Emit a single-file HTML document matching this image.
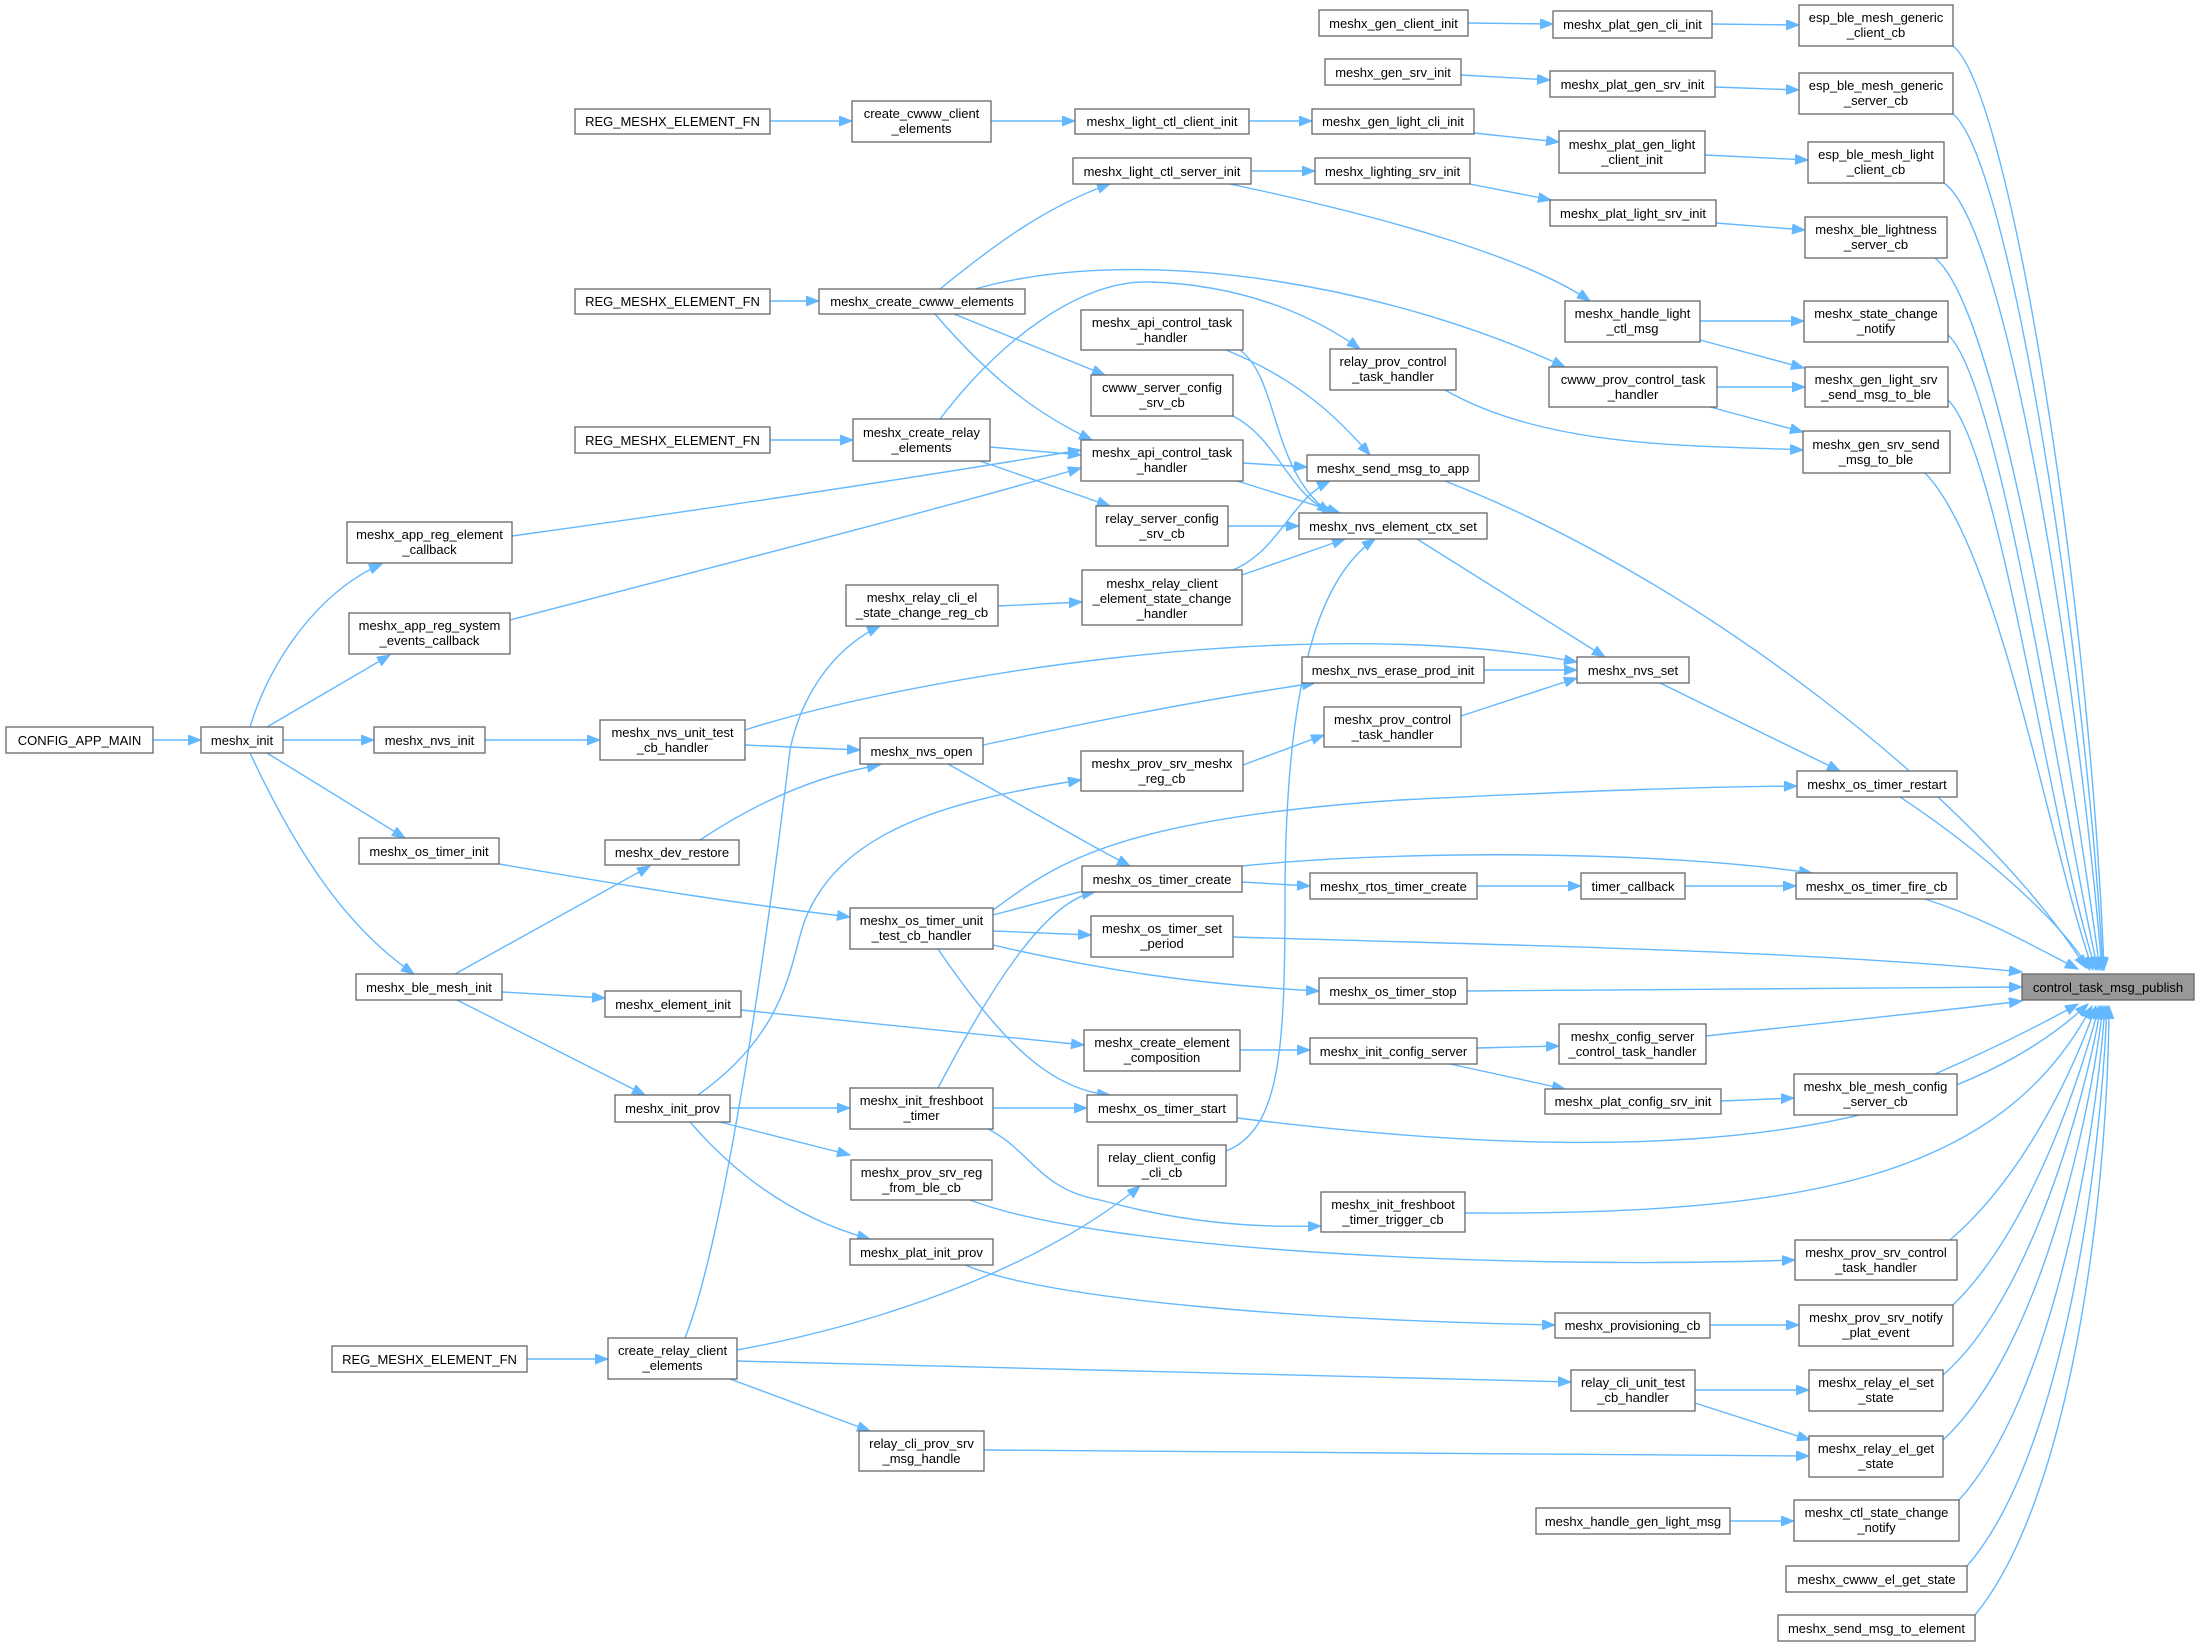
<!DOCTYPE html>
<html><head><meta charset="utf-8"><style>
html,body{margin:0;padding:0;background:#fff;}
svg{display:block}
text{font-family:"Liberation Sans",Arial,sans-serif;font-size:13px;fill:#000;text-anchor:middle}
rect{fill:#fff;stroke:#666;stroke-width:1.3}
path{fill:none;stroke:#63b8ff;stroke-width:1.4}
</style></head><body>
<svg width="2203" height="1647" viewBox="0 0 2203 1647" xmlns="http://www.w3.org/2000/svg">
<defs><marker id="a" markerUnits="userSpaceOnUse" markerWidth="14" markerHeight="12" refX="13" refY="5" orient="auto"><path d="M0,0 L13,5 L0,10 Z" style="fill:#63b8ff;stroke:#63b8ff;stroke-width:1"/></marker></defs>
<g marker-end="url(#a)">
<path d="M153,740 L201,740"/>
<path d="M250,727 C270,660 320,590 382,564"/>
<path d="M267,727 L390,655"/>
<path d="M283,740 L374,740"/>
<path d="M267,753 L405,838"/>
<path d="M250,753 C300,860 350,930 414,974"/>
<path d="M512,536 C700,510 900,480 1081,450"/>
<path d="M510,620 C700,570 900,520 1081,468"/>
<path d="M485,740 L600,740"/>
<path d="M745,745 L860,750"/>
<path d="M745,730 C900,680 1300,610 1577,662"/>
<path d="M499,864 C650,890 750,905 850,917"/>
<path d="M455,974 L650,866"/>
<path d="M502,992 L605,998"/>
<path d="M457,1000 L645,1095"/>
<path d="M700,840 C760,800 820,775 880,765"/>
<path d="M770,121 L852,121"/>
<path d="M991,121 L1075,121"/>
<path d="M1249,121 L1312,121"/>
<path d="M770,301 L819,301"/>
<path d="M940,289 C1000,240 1050,205 1110,184"/>
<path d="M954,314 L1105,375"/>
<path d="M935,314 C1000,390 1050,420 1092,440"/>
<path d="M975,289 C1150,240 1400,290 1565,367"/>
<path d="M770,440 L853,440"/>
<path d="M990,447 L1081,455"/>
<path d="M980,461 L1110,506"/>
<path d="M940,419 C1000,340 1080,280 1150,282 C1250,285 1320,320 1360,349"/>
<path d="M998,606 L1082,602"/>
<path d="M1251,171 L1315,171"/>
<path d="M1230,184 C1400,220 1530,260 1590,301"/>
<path d="M1226,350 C1300,380 1340,420 1370,455"/>
<path d="M1240,350 C1280,380 1270,470 1330,513"/>
<path d="M1233,416 C1280,440 1290,500 1335,513"/>
<path d="M1243,463 L1307,467"/>
<path d="M1237,481 L1340,513"/>
<path d="M1228,526 L1299,526"/>
<path d="M1233,570 C1280,550 1290,500 1330,481"/>
<path d="M1242,575 L1345,539"/>
<path d="M1445,390 C1550,450 1700,445 1803,450"/>
<path d="M1445,481 C1700,580 1980,800 2086,968"/>
<path d="M1417,539 L1605,657"/>
<path d="M1468,23 L1553,24"/>
<path d="M1712,24 L1799,25"/>
<path d="M1461,75 L1550,80"/>
<path d="M1715,87 L1799,90"/>
<path d="M1474,133 L1559,142"/>
<path d="M1705,155 L1808,160"/>
<path d="M1470,184 L1551,200"/>
<path d="M1716,223 L1805,230"/>
<path d="M1700,321 L1804,321"/>
<path d="M1700,340 L1804,368"/>
<path d="M1717,387 L1805,387"/>
<path d="M1710,407 L1803,432"/>
<path d="M1484,670 L1577,670"/>
<path d="M1461,716 L1577,678"/>
<path d="M1243,765 L1324,735"/>
<path d="M983,745 C1100,720 1200,700 1315,683"/>
<path d="M1660,683 L1840,771"/>
<path d="M993,910 C1050,870 1100,820 1400,800 C1600,790 1700,787 1797,786"/>
<path d="M993,915 L1102,886"/>
<path d="M993,931 L1091,935"/>
<path d="M993,945 C1100,970 1200,985 1319,991"/>
<path d="M938,949 C1000,1040 1050,1090 1110,1095"/>
<path d="M948,764 C1030,810 1080,840 1130,866"/>
<path d="M1242,882 L1310,886"/>
<path d="M1477,886 L1581,886"/>
<path d="M1685,886 L1796,886"/>
<path d="M1242,866 C1400,850 1650,850 1812,873"/>
<path d="M938,1088 C1000,970 1050,900 1095,892"/>
<path d="M993,1108 L1087,1108"/>
<path d="M988,1129 C1030,1150 1040,1190 1100,1200 C1180,1222 1250,1228 1321,1226"/>
<path d="M730,1108 L850,1108"/>
<path d="M720,1122 L850,1155"/>
<path d="M690,1122 C740,1180 800,1220 870,1239"/>
<path d="M698,1095 C790,1030 790,960 805,920 C840,830 950,800 1081,780"/>
<path d="M741,1010 L1084,1045"/>
<path d="M1240,1050 L1310,1050"/>
<path d="M1477,1048 L1559,1046"/>
<path d="M1450,1064 L1565,1089"/>
<path d="M1721,1101 L1794,1098"/>
<path d="M970,1200 C1100,1250 1500,1270 1795,1260"/>
<path d="M965,1265 C1050,1300 1300,1320 1555,1325"/>
<path d="M1710,1325 L1799,1325"/>
<path d="M527,1359 L608,1359"/>
<path d="M685,1338 C720,1250 760,1000 790,750 C800,700 830,650 880,626"/>
<path d="M737,1350 C900,1320 1050,1260 1140,1186"/>
<path d="M737,1361 L1571,1382"/>
<path d="M730,1379 L870,1431"/>
<path d="M1226,1151 C1280,1130 1285,1050 1285,900 C1285,650 1330,570 1375,539"/>
<path d="M1695,1390 L1809,1390"/>
<path d="M1695,1403 L1810,1440"/>
<path d="M984,1450 L1809,1456"/>
<path d="M1730,1521 L1794,1521"/>
<path d="M1953,46 C2010,90 2090,600 2104,970"/>
<path d="M1953,114 C2010,160 2085,650 2103,970"/>
<path d="M1944,183 C2010,230 2080,700 2102,970"/>
<path d="M1935,258 C2000,310 2070,750 2100,970"/>
<path d="M1948,335 C2000,380 2060,800 2098,970"/>
<path d="M1948,400 C2000,450 2050,830 2096,970"/>
<path d="M1925,473 C2000,550 2050,850 2093,970"/>
<path d="M1900,797 C1980,850 2060,920 2090,970"/>
<path d="M1925,899 C1990,920 2040,950 2078,969"/>
<path d="M1233,937 C1500,945 1800,950 2022,972"/>
<path d="M1467,991 L2022,987"/>
<path d="M1706,1036 C1850,1020 1950,1010 2022,1001"/>
<path d="M1935,1074 C1990,1050 2040,1025 2078,1004"/>
<path d="M1237,1118 C1500,1150 1900,1180 2088,1004"/>
<path d="M1465,1213 C1800,1215 2000,1180 2092,1006"/>
<path d="M1950,1240 C2020,1180 2070,1080 2096,1006"/>
<path d="M1953,1305 C2030,1230 2080,1080 2099,1006"/>
<path d="M1943,1375 C2030,1300 2085,1100 2101,1006"/>
<path d="M1943,1440 C2040,1350 2090,1120 2103,1006"/>
<path d="M1959,1500 C2050,1400 2095,1150 2105,1006"/>
<path d="M1967,1566 C2060,1460 2100,1180 2107,1006"/>
<path d="M1975,1615 C2070,1500 2108,1200 2109,1006"/>
</g>
<g>
<rect x="6" y="727" width="147" height="26"/><text x="79.5" y="745">CONFIG_APP_MAIN</text>
<rect x="201" y="727" width="82" height="26"/><text x="242" y="745">meshx_init</text>
<rect x="374" y="727" width="111" height="26"/><text x="429.5" y="745">meshx_nvs_init</text>
<rect x="600" y="720" width="145" height="40"/><text x="672.5" y="737">meshx_nvs_unit_test</text><text x="672.5" y="752">_cb_handler</text>
<rect x="860" y="738" width="123" height="26"/><text x="921.5" y="756">meshx_nvs_open</text>
<rect x="347" y="522" width="165" height="41"/><text x="429.5" y="539">meshx_app_reg_element</text><text x="429.5" y="554">_callback</text>
<rect x="349" y="613" width="161" height="41"/><text x="429.5" y="630">meshx_app_reg_system</text><text x="429.5" y="645">_events_callback</text>
<rect x="575" y="109" width="195" height="25"/><text x="672.5" y="126">REG_MESHX_ELEMENT_FN</text>
<rect x="852" y="101" width="139" height="41"/><text x="921.5" y="118">create_cwww_client</text><text x="921.5" y="133">_elements</text>
<rect x="575" y="289" width="195" height="25"/><text x="672.5" y="306">REG_MESHX_ELEMENT_FN</text>
<rect x="819" y="289" width="206" height="25"/><text x="922" y="306">meshx_create_cwww_elements</text>
<rect x="575" y="427" width="195" height="26"/><text x="672.5" y="445">REG_MESHX_ELEMENT_FN</text>
<rect x="853" y="419" width="137" height="42"/><text x="921.5" y="437">meshx_create_relay</text><text x="921.5" y="452">_elements</text>
<rect x="846" y="585" width="152" height="41"/><text x="922" y="602">meshx_relay_cli_el</text><text x="922" y="617">_state_change_reg_cb</text>
<rect x="359" y="838" width="140" height="26"/><text x="429" y="856">meshx_os_timer_init</text>
<rect x="605" y="840" width="134" height="25"/><text x="672" y="857">meshx_dev_restore</text>
<rect x="850" y="908" width="143" height="41"/><text x="921.5" y="925">meshx_os_timer_unit</text><text x="921.5" y="940">_test_cb_handler</text>
<rect x="356" y="974" width="146" height="26"/><text x="429" y="992">meshx_ble_mesh_init</text>
<rect x="605" y="991" width="136" height="26"/><text x="673" y="1009">meshx_element_init</text>
<rect x="615" y="1095" width="115" height="27"/><text x="672.5" y="1113">meshx_init_prov</text>
<rect x="850" y="1088" width="143" height="41"/><text x="921.5" y="1105">meshx_init_freshboot</text><text x="921.5" y="1120">_timer</text>
<rect x="851" y="1160" width="141" height="40"/><text x="921.5" y="1177">meshx_prov_srv_reg</text><text x="921.5" y="1192">_from_ble_cb</text>
<rect x="850" y="1239" width="143" height="26"/><text x="921.5" y="1257">meshx_plat_init_prov</text>
<rect x="332" y="1346" width="195" height="26"/><text x="429.5" y="1364">REG_MESHX_ELEMENT_FN</text>
<rect x="608" y="1338" width="129" height="41"/><text x="672.5" y="1355">create_relay_client</text><text x="672.5" y="1370">_elements</text>
<rect x="859" y="1431" width="125" height="40"/><text x="921.5" y="1448">relay_cli_prov_srv</text><text x="921.5" y="1463">_msg_handle</text>
<rect x="1075" y="109" width="174" height="25"/><text x="1162" y="126">meshx_light_ctl_client_init</text>
<rect x="1073" y="158" width="178" height="26"/><text x="1162" y="176">meshx_light_ctl_server_init</text>
<rect x="1081" y="310" width="162" height="40"/><text x="1162" y="327">meshx_api_control_task</text><text x="1162" y="342">_handler</text>
<rect x="1091" y="375" width="142" height="41"/><text x="1162" y="392">cwww_server_config</text><text x="1162" y="407">_srv_cb</text>
<rect x="1081" y="440" width="162" height="41"/><text x="1162" y="457">meshx_api_control_task</text><text x="1162" y="472">_handler</text>
<rect x="1096" y="506" width="132" height="40"/><text x="1162" y="523">relay_server_config</text><text x="1162" y="538">_srv_cb</text>
<rect x="1082" y="570" width="160" height="55"/><text x="1162" y="588">meshx_relay_client</text><text x="1162" y="603">_element_state_change</text><text x="1162" y="618">_handler</text>
<rect x="1081" y="751" width="162" height="40"/><text x="1162" y="768">meshx_prov_srv_meshx</text><text x="1162" y="783">_reg_cb</text>
<rect x="1082" y="866" width="160" height="26"/><text x="1162" y="884">meshx_os_timer_create</text>
<rect x="1091" y="916" width="142" height="41"/><text x="1162" y="933">meshx_os_timer_set</text><text x="1162" y="948">_period</text>
<rect x="1084" y="1030" width="156" height="41"/><text x="1162" y="1047">meshx_create_element</text><text x="1162" y="1062">_composition</text>
<rect x="1087" y="1095" width="150" height="27"/><text x="1162" y="1113">meshx_os_timer_start</text>
<rect x="1098" y="1145" width="128" height="41"/><text x="1162" y="1162">relay_client_config</text><text x="1162" y="1177">_cli_cb</text>
<rect x="1319" y="10" width="149" height="26"/><text x="1393.5" y="28">meshx_gen_client_init</text>
<rect x="1325" y="59" width="136" height="26"/><text x="1393" y="77">meshx_gen_srv_init</text>
<rect x="1312" y="109" width="162" height="25"/><text x="1393" y="126">meshx_gen_light_cli_init</text>
<rect x="1315" y="158" width="155" height="26"/><text x="1392.5" y="176">meshx_lighting_srv_init</text>
<rect x="1330" y="349" width="126" height="41"/><text x="1393" y="366">relay_prov_control</text><text x="1393" y="381">_task_handler</text>
<rect x="1307" y="455" width="172" height="26"/><text x="1393" y="473">meshx_send_msg_to_app</text>
<rect x="1299" y="513" width="188" height="26"/><text x="1393" y="531">meshx_nvs_element_ctx_set</text>
<rect x="1302" y="657" width="182" height="26"/><text x="1393" y="675">meshx_nvs_erase_prod_init</text>
<rect x="1324" y="707" width="137" height="40"/><text x="1392.5" y="724">meshx_prov_control</text><text x="1392.5" y="739">_task_handler</text>
<rect x="1310" y="873" width="167" height="26"/><text x="1393.5" y="891">meshx_rtos_timer_create</text>
<rect x="1319" y="978" width="148" height="26"/><text x="1393" y="996">meshx_os_timer_stop</text>
<rect x="1310" y="1038" width="167" height="26"/><text x="1393.5" y="1056">meshx_init_config_server</text>
<rect x="1321" y="1192" width="144" height="40"/><text x="1393" y="1209">meshx_init_freshboot</text><text x="1393" y="1224">_timer_trigger_cb</text>
<rect x="1553" y="11" width="159" height="27"/><text x="1632.5" y="29">meshx_plat_gen_cli_init</text>
<rect x="1550" y="71" width="165" height="26"/><text x="1632.5" y="89">meshx_plat_gen_srv_init</text>
<rect x="1559" y="131" width="146" height="42"/><text x="1632" y="149">meshx_plat_gen_light</text><text x="1632" y="164">_client_init</text>
<rect x="1550" y="200" width="166" height="26"/><text x="1633" y="218">meshx_plat_light_srv_init</text>
<rect x="1565" y="301" width="135" height="41"/><text x="1632.5" y="318">meshx_handle_light</text><text x="1632.5" y="333">_ctl_msg</text>
<rect x="1549" y="367" width="168" height="40"/><text x="1633" y="384">cwww_prov_control_task</text><text x="1633" y="399">_handler</text>
<rect x="1577" y="657" width="112" height="26"/><text x="1633" y="675">meshx_nvs_set</text>
<rect x="1581" y="873" width="104" height="26"/><text x="1633" y="891">timer_callback</text>
<rect x="1559" y="1024" width="147" height="40"/><text x="1632.5" y="1041">meshx_config_server</text><text x="1632.5" y="1056">_control_task_handler</text>
<rect x="1545" y="1089" width="176" height="25"/><text x="1633" y="1106">meshx_plat_config_srv_init</text>
<rect x="1555" y="1313" width="155" height="25"/><text x="1632.5" y="1330">meshx_provisioning_cb</text>
<rect x="1571" y="1370" width="124" height="41"/><text x="1633" y="1387">relay_cli_unit_test</text><text x="1633" y="1402">_cb_handler</text>
<rect x="1536" y="1508" width="194" height="26"/><text x="1633" y="1526">meshx_handle_gen_light_msg</text>
<rect x="1799" y="5" width="154" height="41"/><text x="1876" y="22">esp_ble_mesh_generic</text><text x="1876" y="37">_client_cb</text>
<rect x="1799" y="73" width="154" height="41"/><text x="1876" y="90">esp_ble_mesh_generic</text><text x="1876" y="105">_server_cb</text>
<rect x="1808" y="142" width="136" height="41"/><text x="1876" y="159">esp_ble_mesh_light</text><text x="1876" y="174">_client_cb</text>
<rect x="1805" y="217" width="142" height="41"/><text x="1876" y="234">meshx_ble_lightness</text><text x="1876" y="249">_server_cb</text>
<rect x="1804" y="301" width="144" height="41"/><text x="1876" y="318">meshx_state_change</text><text x="1876" y="333">_notify</text>
<rect x="1805" y="367" width="143" height="40"/><text x="1876" y="384">meshx_gen_light_srv</text><text x="1876" y="399">_send_msg_to_ble</text>
<rect x="1803" y="431" width="147" height="42"/><text x="1876" y="449">meshx_gen_srv_send</text><text x="1876" y="464">_msg_to_ble</text>
<rect x="1797" y="771" width="160" height="26"/><text x="1877" y="789">meshx_os_timer_restart</text>
<rect x="1796" y="873" width="161" height="26"/><text x="1876.5" y="891">meshx_os_timer_fire_cb</text>
<rect x="1794" y="1074" width="163" height="41"/><text x="1875.5" y="1091">meshx_ble_mesh_config</text><text x="1875.5" y="1106">_server_cb</text>
<rect x="1795" y="1240" width="162" height="40"/><text x="1876" y="1257">meshx_prov_srv_control</text><text x="1876" y="1272">_task_handler</text>
<rect x="1799" y="1305" width="154" height="41"/><text x="1876" y="1322">meshx_prov_srv_notify</text><text x="1876" y="1337">_plat_event</text>
<rect x="1809" y="1370" width="134" height="41"/><text x="1876" y="1387">meshx_relay_el_set</text><text x="1876" y="1402">_state</text>
<rect x="1809" y="1436" width="134" height="41"/><text x="1876" y="1453">meshx_relay_el_get</text><text x="1876" y="1468">_state</text>
<rect x="1794" y="1500" width="165" height="41"/><text x="1876.5" y="1517">meshx_ctl_state_change</text><text x="1876.5" y="1532">_notify</text>
<rect x="1786" y="1566" width="181" height="26"/><text x="1876.5" y="1584">meshx_cwww_el_get_state</text>
<rect x="1778" y="1615" width="197" height="26"/><text x="1876.5" y="1633">meshx_send_msg_to_element</text>
<rect x="2022" y="974" width="172" height="26" style="fill:#999"/><text x="2108" y="992">control_task_msg_publish</text>
</g>
</svg>
</body></html>
